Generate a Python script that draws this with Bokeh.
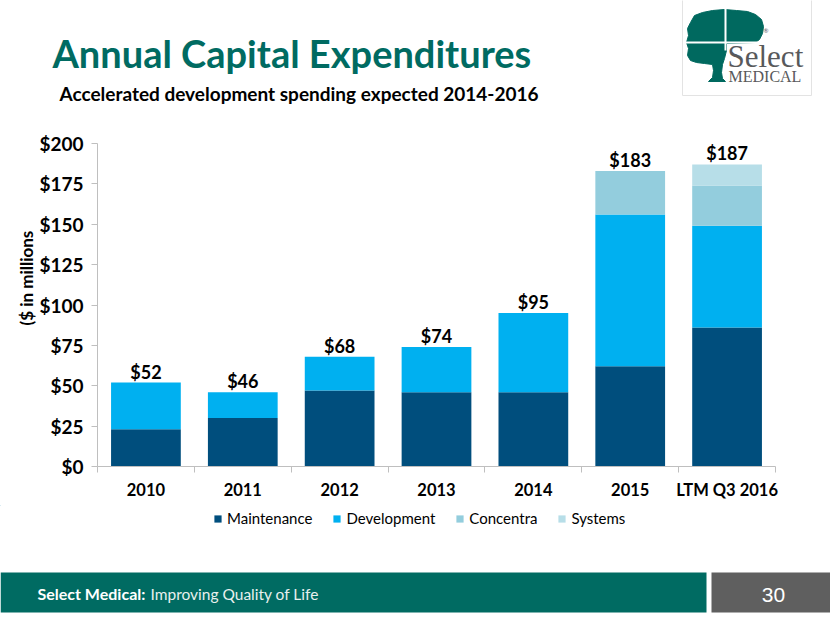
from bokeh.plotting import figure
from bokeh.models import (Range1d, FixedTicker, Legend, LegendItem, LabelSet, Title,
                          ColumnDataSource)
from bokeh.layouts import column
from bokeh.core.properties import value
from bokeh.embed import file_html
from bokeh.resources import INLINE

# ---------------- data ----------------
categories = ["2010", "2011", "2012", "2013", "2014", "2015", "LTM Q3 2016"]
maintenance = [23, 30, 47, 46, 46, 62, 86]
development = [29, 16, 21, 28, 49, 94, 63]
concentra = [0, 0, 0, 0, 0, 27, 25]
systems = [0, 0, 0, 0, 0, 0, 13]
totals = [52, 46, 68, 74, 95, 183, 187]
total_labels = ["$52", "$46", "$68", "$74", "$95", "$183", "$187"]
y_ticks = [0, 25, 50, 75, 100, 125, 150, 175, 200]
y_tick_labels = ["$0", "$25", "$50", "$75", "$100", "$125", "$150", "$175", "$200"]
series_names = ["Maintenance", "Development", "Concentra", "Systems"]
colors = ["#004E7D", "#00B0F0", "#93CDDD", "#B7DEE8"]

TEAL = "#006B62"
LATO = value("Lato")
W = 830
HDR_H, CH_TOP, CH_BOT = 125, 125, 505   # page y-bands


def deco_fig(y0, y1):
    f = figure(width=W, height=y1 - y0, x_range=Range1d(0, W), y_range=Range1d(y1, y0),
               output_backend="svg", toolbar_location=None, min_border=0,
               x_axis_location=None, y_axis_location=None)
    f.grid.visible = False
    f.outline_line_color = None
    f.frame_align = False
    return f


# ---------------- header ----------------
hdr = deco_fig(0, HDR_H)
hdr.text(x=[52], y=[52], text=["Annual Capital Expenditures"], text_font=LATO,
         text_font_style="bold", text_font_size="38px", text_color=TEAL,
         text_baseline="middle")
hdr.text(x=[59], y=[93], text=["Accelerated development spending expected 2014-2016"],
         text_font=LATO, text_font_style="bold", text_font_size="19px",
         text_color="#000000", text_baseline="middle")

hdr.quad(left=[682], right=[811], top=[-10], bottom=[95], fill_color="#FFFFFF",
         line_color="#E3E3E3", line_width=1)
tree_x = [690, 694, 702, 712, 724, 736, 747, 755, 761, 763, 762, 759, 755, 726,
          726, 724, 722, 721, 722, 725, 708, 712, 713, 712, 704, 696, 690, 687,
          688, 686, 688, 687]
tree_y = [22, 15, 12, 10, 9, 10, 11, 14, 19, 26, 33, 39, 42, 43,
          50, 58, 64, 72, 78, 81, 81, 77, 70, 64, 63, 62, 60, 55,
          48, 42, 35, 28]
hdr.patch(tree_x, tree_y, fill_color="#00695F", line_color="#00695F")
hdr.segment(x0=[725], y0=[8], x1=[725], y1=[50], line_color="white", line_width=2)
hdr.segment(x0=[684], y0=[42], x1=[766], y1=[42], line_color="white", line_width=2)
hdr.text(x=[727], y=[56], text=["Select"], text_font=value("Liberation Serif"),
         text_font_size="31px", text_color="#58595B", text_baseline="middle")
hdr.text(x=[728], y=[76], text=["MEDICAL"], text_font=value("Liberation Serif"),
         text_font_size="16px", text_color="#58595B", text_baseline="middle")
hdr.text(x=[763], y=[30], text=["®"], text_font=LATO, text_font_size="6px",
         text_color="#58595B", text_baseline="middle")

# ---------------- chart ----------------
FT, FB = 143, 466
p = figure(width=W, height=CH_BOT - CH_TOP, x_range=Range1d(0, 7), y_range=Range1d(0, 200),
           output_backend="svg", toolbar_location=None,
           min_border_left=97, min_border_right=55, min_border_top=FT - CH_TOP,
           min_border_bottom=CH_BOT - FB)
p.grid.visible = False
p.outline_line_color = None
p.frame_align = False

centers = [i + 0.5 for i in range(len(categories))]
src = ColumnDataSource(dict(x=centers, Maintenance=maintenance, Development=development,
                            Concentra=concentra, Systems=systems,
                            total=totals, label=total_labels))
rs = p.vbar_stack(series_names, x="x", width=0.72, color=colors, source=src,
                  line_color=None)

p.add_layout(LabelSet(x="x", y="total", text="label", source=src,
                      text_font=LATO, text_font_style="bold",
                      text_font_size="18px", text_color="#000000",
                      text_align="center", text_baseline="alphabetic", y_offset=4))

xa = p.xaxis[0]
xa.ticker = FixedTicker(ticks=centers, minor_ticks=list(range(8)))
xa.major_label_overrides = {c: lab for c, lab in zip(centers, categories)}
xa.major_tick_out = 0
xa.major_tick_in = 0
xa.minor_tick_out = 6
xa.minor_tick_in = 0
xa.minor_tick_line_color = "#BFBFBF"
xa.axis_line_color = "#BFBFBF"
xa.major_label_text_font = "Lato"
xa.major_label_text_font_style = "bold"
xa.major_label_text_font_size = "16.5px"
xa.major_label_text_color = "#000000"
xa.major_label_standoff = 7

ya = p.yaxis[0]
ya.ticker = FixedTicker(ticks=y_ticks, minor_ticks=[])
ya.major_label_overrides = {t: lab for t, lab in zip(y_ticks, y_tick_labels)}
ya.major_tick_out = 6
ya.major_tick_in = 0
ya.major_tick_line_color = "#BFBFBF"
ya.axis_line_color = "#BFBFBF"
ya.major_label_text_font = "Lato"
ya.major_label_text_font_style = "bold"
ya.major_label_text_font_size = "19px"
ya.major_label_text_color = "#000000"
ya.major_label_standoff = 8

p.add_layout(Title(text="($ in millions", align="left", offset=FB - 325,
                   text_font="Lato", text_font_style="bold", text_font_size="17px",
                   text_color="#000000", standoff=0), "left")

# ---------------- footer ----------------
ftr = deco_fig(CH_BOT, 623)
dummy = [ftr.vbar(x=[-1000], top=[-1000], bottom=[-1001], width=1, fill_color=c,
                  line_color=None) for c in colors]
legend = Legend(items=[LegendItem(label=n, renderers=[r]) for n, r in zip(series_names, dummy)],
                orientation="horizontal", location=(213, 623 - CH_BOT - 22),
                label_text_font="Lato", label_text_font_size="15px",
                label_text_color="#000000", glyph_width=9, glyph_height=9,
                label_standoff=5, spacing=20, border_line_color=None,
                background_fill_alpha=0, padding=0, margin=0)
ftr.add_layout(legend)

ftr.quad(left=[0], right=[706], top=[572], bottom=[612], fill_color=TEAL, line_color=None)
ftr.quad(left=[711], right=[830], top=[572], bottom=[612], fill_color="#5F5F5F",
         line_color=None)
ftr.text(x=[37], y=[593], text=["Select Medical:"], text_font=LATO, text_font_style="bold",
         text_font_size="16px", text_color="#FFFFFF", text_baseline="middle")
ftr.text(x=[150], y=[593], text=["Improving Quality of Life"], text_font=LATO,
         text_font_size="15.5px", text_color="#E8F0EE", text_baseline="middle")
ftr.text(x=[773], y=[594], text=["30"], text_font=value("Liberation Sans"),
         text_font_size="21px", text_color="#FFFFFF", text_align="center",
         text_baseline="middle")

layout = column(hdr, p, ftr, spacing=0)
open("out.html", "w").write(file_html(layout, INLINE))
